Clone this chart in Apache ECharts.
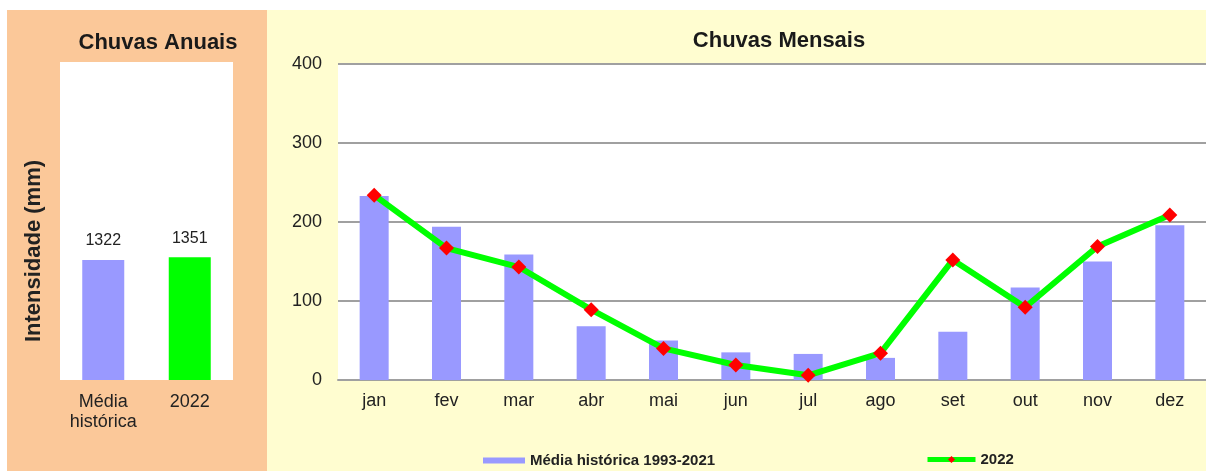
<!DOCTYPE html>
<html>
<head>
<meta charset="utf-8">
<script src="https://cdn.jsdelivr.net/npm/echarts@6/dist/echarts.min.js"></script>
<style>
  html, body { margin: 0; padding: 0; background: #ffffff; }
  #chart { width: 1206px; height: 471px; }
</style>
</head>
<body>
<div id="chart"></div>
<script>
// ---- data ----
const monthCategories = ['jan', 'fev', 'mar', 'abr', 'mai', 'jun', 'jul', 'ago', 'set', 'out', 'nov', 'dez'];
const mediaHistorica = [233, 194, 159, 68, 50, 35, 33, 28, 61, 117, 150, 196];
const chuvas2022 = [234, 167, 143, 89, 40, 19, 6, 34, 152, 92, 169, 209];
const annualCategories = ['Média\nhistórica', '2022'];
const annualValues = [1322, 1351];
const monthlyTicks = [0, 100, 200, 300, 400];
const mediaName = 'Média histórica 1993-2021';
const yearName = '2022';

const FONT = '"Liberation Sans", Arial, sans-serif';
const chart = echarts.init(document.getElementById('chart'), null, { renderer: 'canvas' });

chart.setOption({
  backgroundColor: '#ffffff',
  animation: false,
  textStyle: { fontFamily: FONT },
  graphic: [
    { type: 'rect', z: -10, shape: { x: 7, y: 10, width: 260, height: 461 }, style: { fill: '#FBC899' } },
    { type: 'rect', z: -10, shape: { x: 267, y: 10, width: 939, height: 461 }, style: { fill: '#FFFDD0' } },
    { type: 'text', z: 10, x: 34, y: 251, rotation: Math.PI / 2,
      style: { text: 'Intensidade (mm)', align: 'center', verticalAlign: 'middle',
               font: 'bold 22px "Liberation Sans", Arial, sans-serif', fill: '#222' } }
  ],
  title: [
    { text: 'Chuvas Anuais', left: 153, top: 27, textAlign: 'center',
      textStyle: { fontSize: 22, fontWeight: 'bold', color: '#1a1a1a', fontFamily: FONT } },
    { text: 'Chuvas Mensais', left: 774, top: 25, textAlign: 'center',
      textStyle: { fontSize: 22, fontWeight: 'bold', color: '#1a1a1a', fontFamily: FONT } }
  ],
  legend: [
    { data: [{ name: mediaName, icon: 'rect' }], left: 483, top: 453, padding: 0, itemWidth: 42, itemHeight: 6,
      textStyle: { fontSize: 15, fontWeight: 'bold', color: '#222', fontFamily: FONT } },
    { data: [{ name: yearName }], left: 925, top: 452, padding: 0, itemWidth: 48, itemHeight: 9,
      lineStyle: { width: 5 },
      textStyle: { fontSize: 15, fontWeight: 'bold', color: '#222', fontFamily: FONT } }
  ],
  grid: [
    { left: 60, top: 62, width: 173, height: 318, show: true, backgroundColor: '#ffffff', borderWidth: 0 },
    { left: 338, top: 64, width: 872, height: 316, show: true, backgroundColor: '#ffffff', borderWidth: 0 }
  ],
  xAxis: [
    { gridIndex: 0, type: 'category', data: annualCategories,
      axisLine: { show: false }, axisTick: { show: false },
      axisLabel: { interval: 0, fontSize: 18, color: '#222', margin: 12, lineHeight: 20, fontFamily: FONT } },
    { gridIndex: 1, type: 'category', data: monthCategories,
      axisLine: { show: true, lineStyle: { color: '#a0a0a0', width: 2 } }, axisTick: { show: false },
      axisLabel: { interval: 0, fontSize: 18, color: '#222', margin: 12, fontFamily: FONT } }
  ],
  yAxis: [
    { gridIndex: 0, type: 'value', min: 0, max: 3500, show: false },
    { gridIndex: 1, type: 'value', min: monthlyTicks[0], max: monthlyTicks[monthlyTicks.length - 1], interval: 100,
      axisLine: { show: false }, axisTick: { show: false },
      axisLabel: { fontSize: 18, color: '#222', margin: 16, fontFamily: FONT },
      splitLine: { show: true, lineStyle: { color: '#a0a0a0', width: 2 } } }
  ],
  series: [
    { type: 'bar', xAxisIndex: 0, yAxisIndex: 0, barWidth: 42,
      data: annualValues.map((v, i) => ({ value: v, itemStyle: { color: i === 0 ? '#9999FF' : '#00FF00' } })),
      label: { show: true, position: 'top', distance: 11, fontSize: 16, color: '#222', fontFamily: FONT } },
    { name: mediaName, type: 'bar', xAxisIndex: 1, yAxisIndex: 1, barWidth: 29,
      itemStyle: { color: '#9999FF' }, data: mediaHistorica },
    { name: yearName, type: 'line', xAxisIndex: 1, yAxisIndex: 1, z: 5,
      data: chuvas2022, symbol: 'diamond', symbolSize: 15,
      lineStyle: { color: '#00FF00', width: 6 },
      itemStyle: { color: '#FF0000' } }
  ]
});
</script>
</body>
</html>
